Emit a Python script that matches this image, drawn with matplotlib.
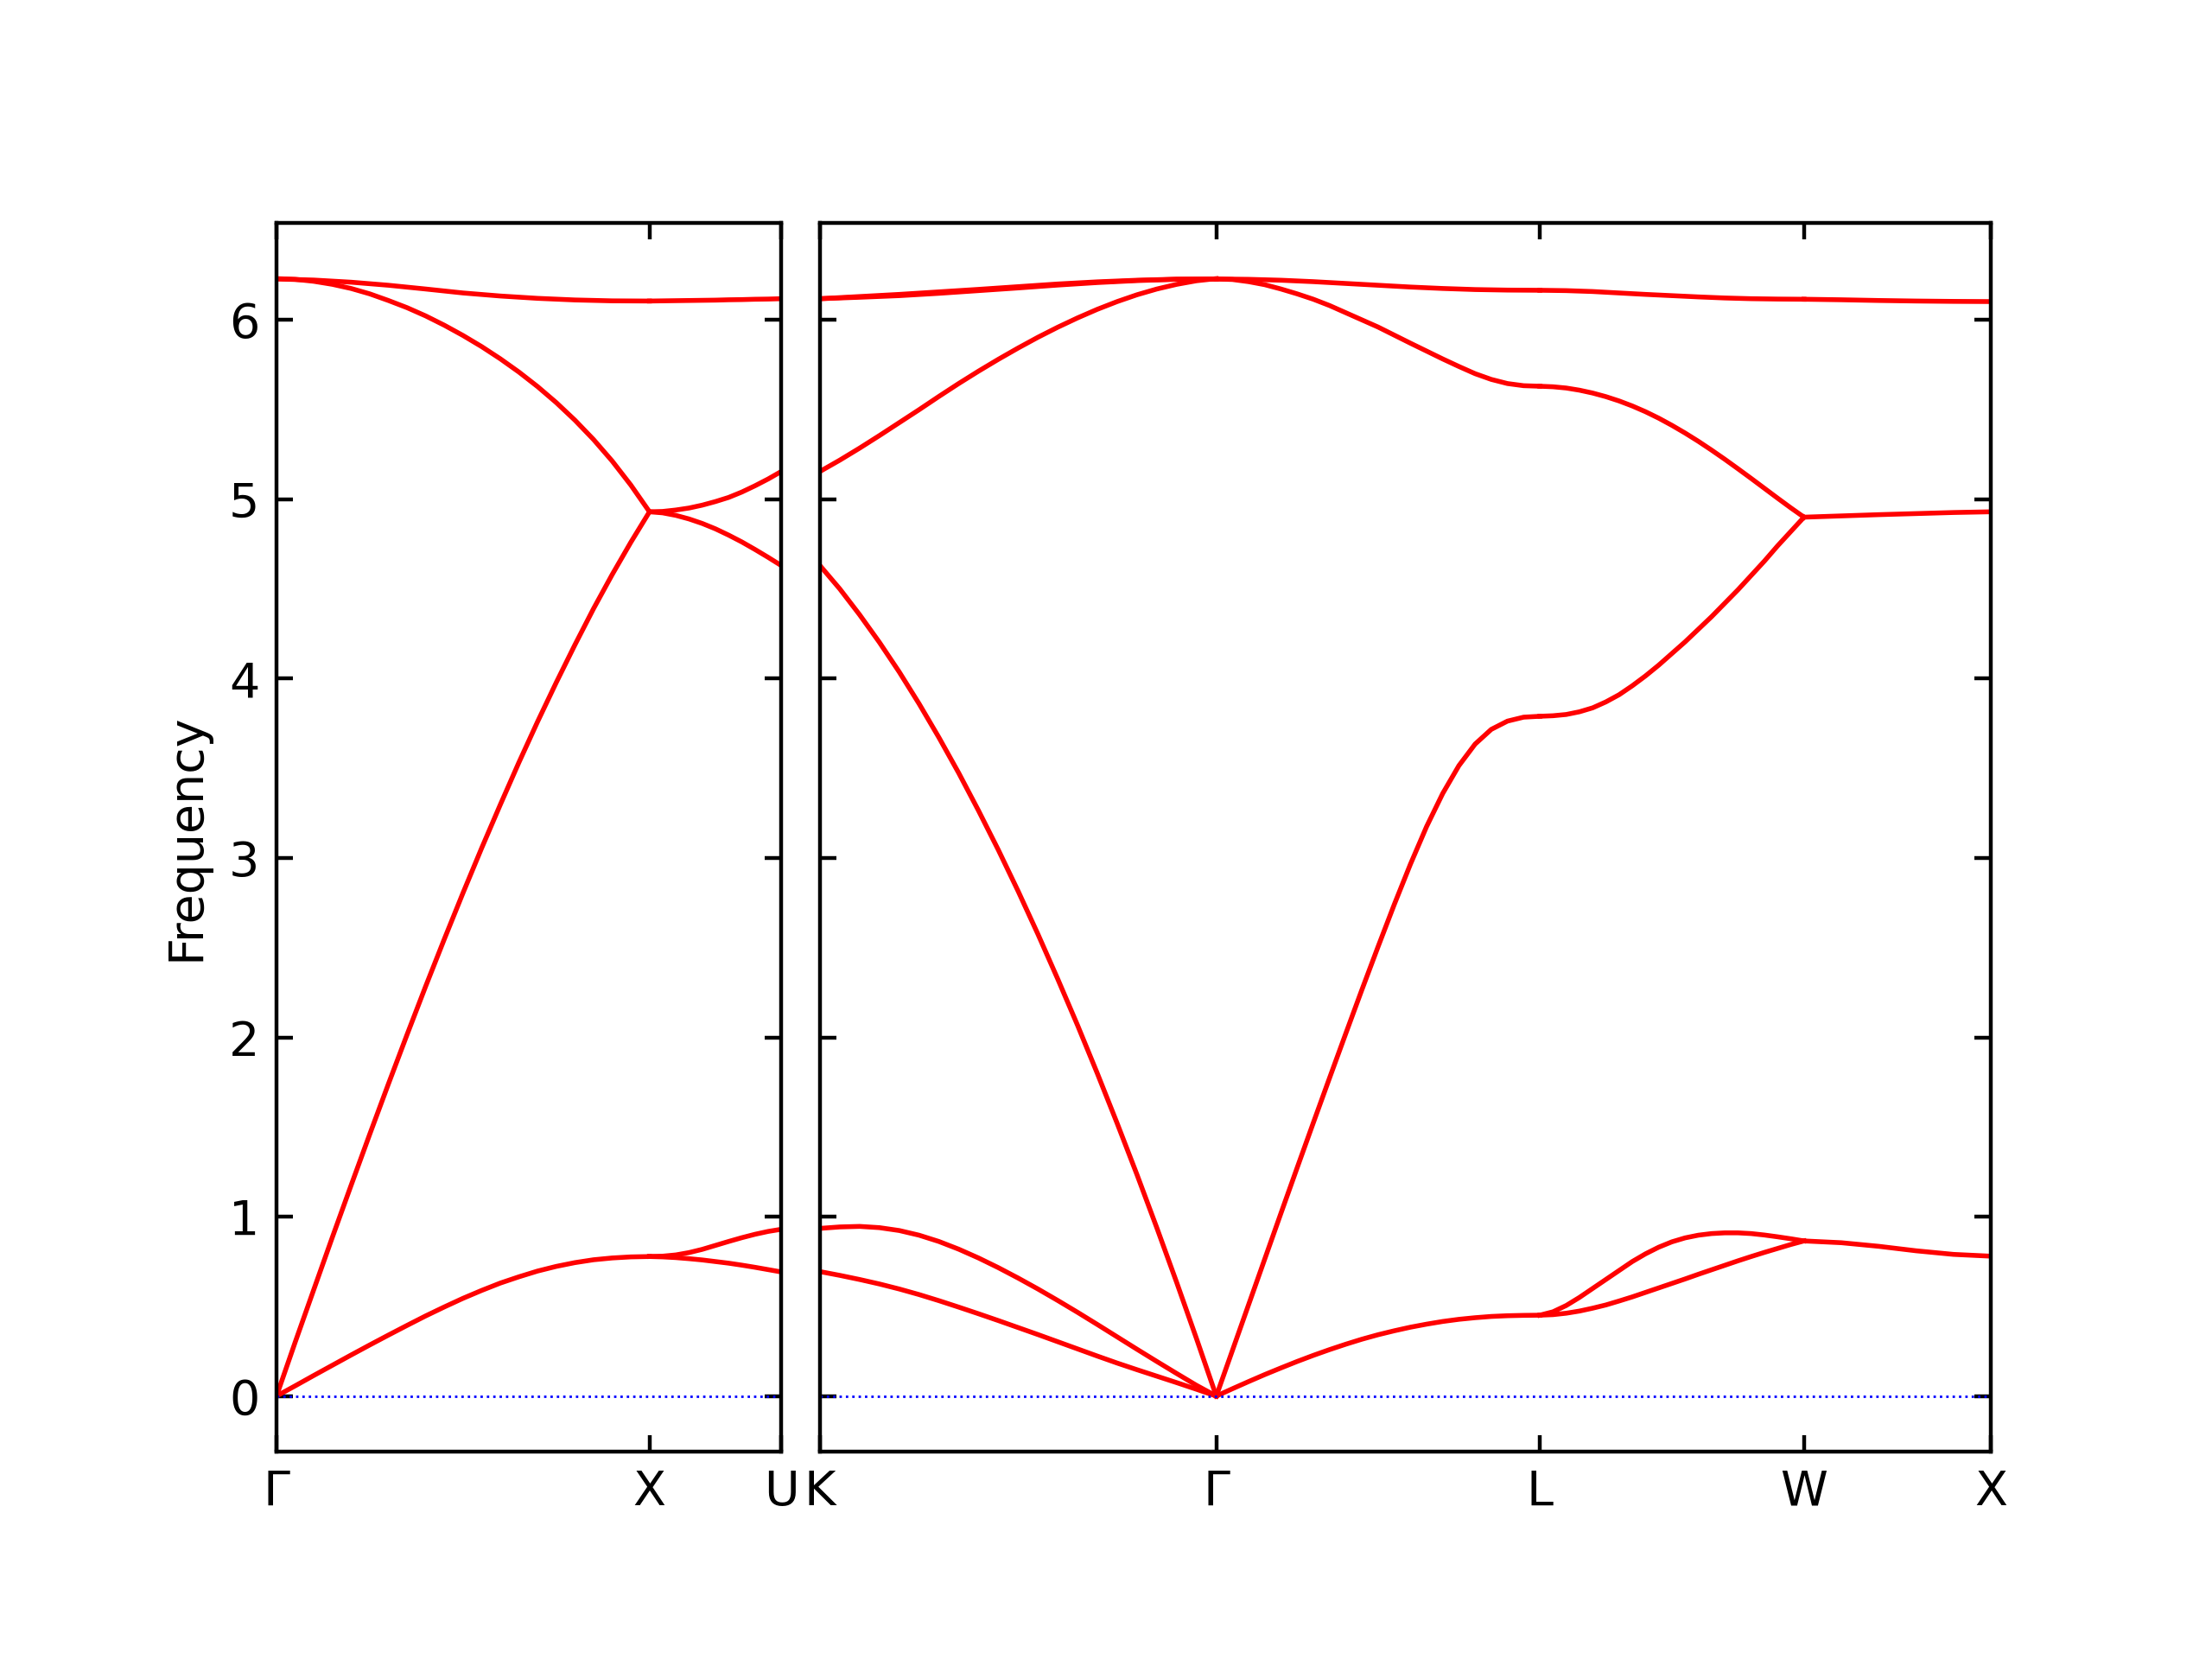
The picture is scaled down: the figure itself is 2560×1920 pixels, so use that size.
import numpy as np
import matplotlib
matplotlib.use("Agg")
import matplotlib.pyplot as plt

# path Γ-X-U | K-Γ-L-W-X, segment lengths in 2pi/a
seg_names = ['GX', 'XU', 'KG', 'GL', 'LW', 'WX']
seg_lengths = [1.0, 0.3536, 1.0607, 0.8660, 0.7071, 0.5]

labels_left = ['Γ', 'X', 'U']
labels_right = ['K', 'Γ', 'L', 'W', 'X']

# frequencies read along each segment (evenly spaced samples)
band_GX = [
    [0.0, 0.057, 0.115, 0.172, 0.229, 0.285, 0.34, 0.394, 0.447, 0.497, 0.545,
     0.589, 0.63, 0.665, 0.697, 0.723, 0.744, 0.76, 0.77, 0.776, 0.778],
    [0.0, 0.30, 0.594, 0.887, 1.175, 1.46, 1.74, 2.015, 2.285, 2.548, 2.805,
     3.055, 3.297, 3.533, 3.76, 3.978, 4.188, 4.39, 4.58, 4.76, 4.93],
    [6.23, 6.226, 6.215, 6.198, 6.175, 6.145, 6.108, 6.068, 6.022, 5.97, 5.913,
     5.851, 5.783, 5.709, 5.628, 5.539, 5.441, 5.333, 5.213, 5.079, 4.93],
    [6.228, 6.222, 6.21, 6.193, 6.172, 6.15, 6.133, 6.12, 6.111, 6.106, 6.105],
]
band_XU = [
    [0.778, 0.776, 0.772, 0.766, 0.759, 0.75, 0.741, 0.73, 0.718, 0.705, 0.692],
    [0.778, 0.78, 0.787, 0.80, 0.818, 0.84, 0.862, 0.883, 0.902, 0.918, 0.93],
    [4.93, 4.924, 4.91, 4.89, 4.865, 4.835, 4.80, 4.762, 4.72, 4.676, 4.63],
    [4.93, 4.932, 4.94, 4.951, 4.967, 4.987, 5.01, 5.04, 5.075, 5.113, 5.155],
    [6.105, 6.106, 6.107, 6.108, 6.109, 6.11, 6.112, 6.113, 6.115, 6.116, 6.118],
]
band_KG = [
    [0.694, 0.673, 0.65, 0.625, 0.597, 0.566, 0.532, 0.496, 0.459, 0.421, 0.382,
     0.343, 0.303, 0.263, 0.223, 0.184, 0.147, 0.111, 0.075, 0.038, 0.0],
    [0.935, 0.943, 0.946, 0.939, 0.923, 0.897, 0.862, 0.819, 0.77, 0.716, 0.658,
     0.597, 0.533, 0.467, 0.399, 0.33, 0.261, 0.193, 0.126, 0.06, 0.0],
    [4.63, 4.50, 4.356, 4.202, 4.037, 3.86, 3.672, 3.474, 3.264, 3.045, 2.815,
     2.575, 2.325, 2.067, 1.798, 1.52, 1.234, 0.938, 0.634, 0.321, 0.0],
    [5.155, 5.218, 5.285, 5.355, 5.427, 5.499, 5.573, 5.645, 5.714, 5.78, 5.843,
     5.903, 5.959, 6.011, 6.059, 6.102, 6.14, 6.172, 6.198, 6.218, 6.23],
    [6.118, 6.126, 6.135, 6.148, 6.163, 6.178, 6.194, 6.208, 6.219, 6.226, 6.228],
    [6.118, 6.13, 6.142, 6.156, 6.17, 6.185, 6.2, 6.212, 6.221, 6.227, 6.228],
]
band_GL = [
    [0.0, 0.041, 0.081, 0.12, 0.157, 0.193, 0.227, 0.259, 0.289, 0.317, 0.342,
     0.364, 0.384, 0.401, 0.416, 0.428, 0.437, 0.444, 0.448, 0.45, 0.451],
    [0.0, 0.255, 0.51, 0.765, 1.02, 1.273, 1.524, 1.773, 2.02, 2.265, 2.505,
     2.74, 2.965, 3.175, 3.36, 3.515, 3.635, 3.717, 3.763, 3.785, 3.79],
    [6.228, 6.225, 6.213, 6.196, 6.172, 6.145, 6.115, 6.08, 6.04, 6.0, 5.96,
     5.915, 5.87, 5.826, 5.782, 5.74, 5.70, 5.668, 5.645, 5.633, 5.63],
    [6.228, 6.226, 6.221, 6.213, 6.203, 6.193, 6.183, 6.175, 6.169, 6.166, 6.165],
]
band_LW = [
    [0.451, 0.454, 0.462, 0.474, 0.49, 0.508, 0.53, 0.553, 0.578, 0.603, 0.628,
     0.653, 0.679, 0.704, 0.729, 0.754, 0.778, 0.801, 0.823, 0.845, 0.865],
    [0.451, 0.47, 0.505, 0.55, 0.60, 0.65, 0.70, 0.75, 0.793, 0.83, 0.86,
     0.882, 0.897, 0.906, 0.91, 0.91, 0.906, 0.898, 0.888, 0.877, 0.865],
    [3.79, 3.793, 3.80, 3.815, 3.837, 3.87, 3.91, 3.96, 4.015, 4.075, 4.14,
     4.205, 4.275, 4.345, 4.42, 4.495, 4.575, 4.655, 4.74, 4.82, 4.90],
    [5.63, 5.627, 5.62, 5.608, 5.592, 5.572, 5.548, 5.52, 5.488, 5.452, 5.412,
     5.369, 5.323, 5.274, 5.223, 5.17, 5.116, 5.061, 5.006, 4.952, 4.90],
    [6.165, 6.163, 6.158, 6.15, 6.142, 6.135, 6.128, 6.122, 6.118, 6.116, 6.115],
]
band_WX = [
    [0.865, 0.855, 0.835, 0.81, 0.79, 0.78],
    [4.90, 4.907, 4.914, 4.92, 4.926, 4.93],
    [6.115, 6.112, 6.108, 6.105, 6.103, 6.102],
]
bands = [band_GX, band_XU, band_KG, band_GL, band_LW, band_WX]

f_max = 6.23


def draw_segment(ax, x0, length, seg_bands):
    for vals in seg_bands:
        x = np.linspace(x0, x0 + length, len(vals))
        ax.plot(x, vals, color='r', linewidth=1.0)


fig = plt.figure(figsize=(6.4, 4.8), dpi=400)
ax_left = fig.add_axes([0.125, 0.1248, 0.22824, 0.74094])
ax_right = fig.add_axes([0.3707, 0.1248, 0.5293, 0.74094])

edges = np.concatenate([[0.0], np.cumsum(seg_lengths)])

# left part: Γ-X-U, right part: K-Γ-L-W-X
for i in range(2):
    draw_segment(ax_left, edges[i], seg_lengths[i], bands[i])
for i in range(2, 6):
    draw_segment(ax_right, edges[i], seg_lengths[i], bands[i])

ticks_left = edges[0:3]
ticks_right = edges[2:7]

for ax, ticks, labels in [(ax_left, ticks_left, labels_left),
                          (ax_right, ticks_right, labels_right)]:
    ax.axhline(0, color='b', linestyle=':', linewidth=0.5)
    ax.set_xlim(ticks[0], ticks[-1])
    ax.set_ylim(-0.05 * f_max, 1.05 * f_max)
    ax.set_xticks(ticks)
    ax.set_xticklabels(labels)
    ax.tick_params(direction='in', top=True, right=True)

ax_right.set_yticklabels([])
ax_left.set_ylabel('Frequency')

fig.savefig('out.png', dpi=400)
